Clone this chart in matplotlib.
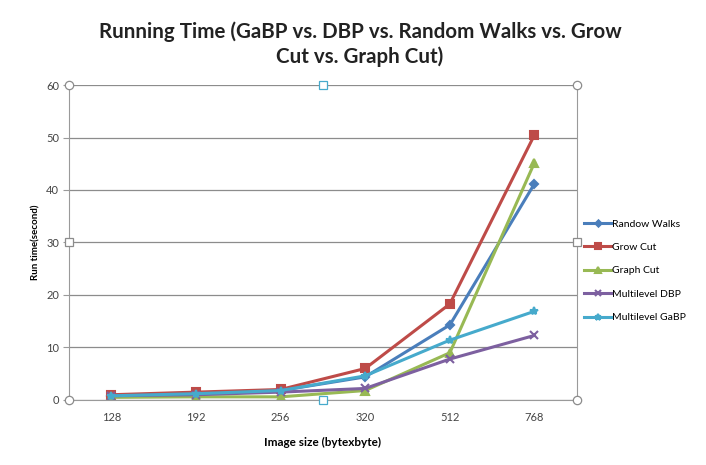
import matplotlib
matplotlib.use('Agg')
import matplotlib.pyplot as plt
import numpy as np

sizes = ['128', '192', '256', '320', '512', '768']
random_walks = [0.8, 1.2, 1.8, 4.4, 14.3, 41.2]
grow_cut = [1.0, 1.5, 2.0, 6.0, 18.3, 50.5]
graph_cut = [0.5, 0.6, 0.6, 1.8, 9.0, 45.2]
multilevel_dbp = [0.8, 1.0, 1.5, 2.2, 7.8, 12.3]
multilevel_gabp = [0.8, 1.2, 1.8, 4.6, 11.4, 16.9]

series = [
    ('Randow Walks', random_walks, '#4A7EBB', 'D', 4),
    ('Grow Cut', grow_cut, '#BE4B48', 's', 6),
    ('Graph Cut', graph_cut, '#98B954', '^', 6),
    ('Multilevel DBP', multilevel_dbp, '#7D60A0', 'x', 6),
    ('Multilevel GaBP', multilevel_gabp, '#46AACC', '*', 6),
]

plt.rcParams['font.family'] = ['Lato', 'DejaVu Sans']

fig = plt.figure(figsize=(7.06, 4.65), dpi=100)
ax = fig.add_axes([0.0977, 0.1398, 0.7193, 0.6774])

x = np.arange(len(sizes))
for name, vals, col, mk, ms in series:
    ax.plot(x, vals, color=col, lw=2.2, marker=mk, ms=ms, mew=1.5,
            label=name)

ax.set_xlim(-0.5, len(sizes) - 0.5)
ax.set_ylim(0, 60)
ax.set_yticks(range(0, 61, 10))
ax.set_xticks(x)
ax.set_xticklabels(sizes)
ax.yaxis.grid(True, color='#8c8c8c', lw=0.9)
ax.set_axisbelow(True)
for s in ['left', 'bottom', 'right']:
    ax.spines[s].set_color('#9a9a9a')
ax.spines['top'].set_visible(False)
ax.tick_params(axis='y', length=4, color='#9a9a9a', labelsize=8, labelcolor='#444444', pad=3)
ax.tick_params(axis='x', length=0, labelsize=8, labelcolor='#444444', pad=9)

# selection handles around the plot area
handles_pts = [(0, 0, 'o'), (0, 0.5, 's'), (0, 1, 'o'), (1, 0, 'o'), (1, 0.5, 's'),
               (1, 1, 'o'), (0.5, 1, 's'), (0.5, 0, 's')]
for hx, hy, hm in handles_pts:
    ec = '#46AACC' if hx == 0.5 else '#8c8c8c'
    ax.plot(hx, hy, marker=hm, ms=6, mfc='white', mec=ec, mew=0.9,
            transform=ax.transAxes, clip_on=False, zorder=5)

ax.set_xlabel('Image size (bytexbyte)', fontsize=8.5, fontweight='bold', labelpad=10)
ax.set_ylabel('Run time(second)', fontsize=7, fontweight='bold', labelpad=4)

fig.text(0.51, 0.905, 'Running Time (GaBP vs. DBP vs. Random Walks vs. Grow\nCut vs. Graph Cut)',
         ha='center', va='center', fontsize=14.8, fontweight='bold',
         linespacing=1.3, color='#222222')

leg = ax.legend(loc='center left', bbox_to_anchor=(1.0, 0.41), frameon=False,
                fontsize=7.5, handlelength=2.6, labelspacing=1.35, handletextpad=0.1,
                markerscale=0.8, borderaxespad=0.3)

fig.savefig('out.png', dpi=100)
